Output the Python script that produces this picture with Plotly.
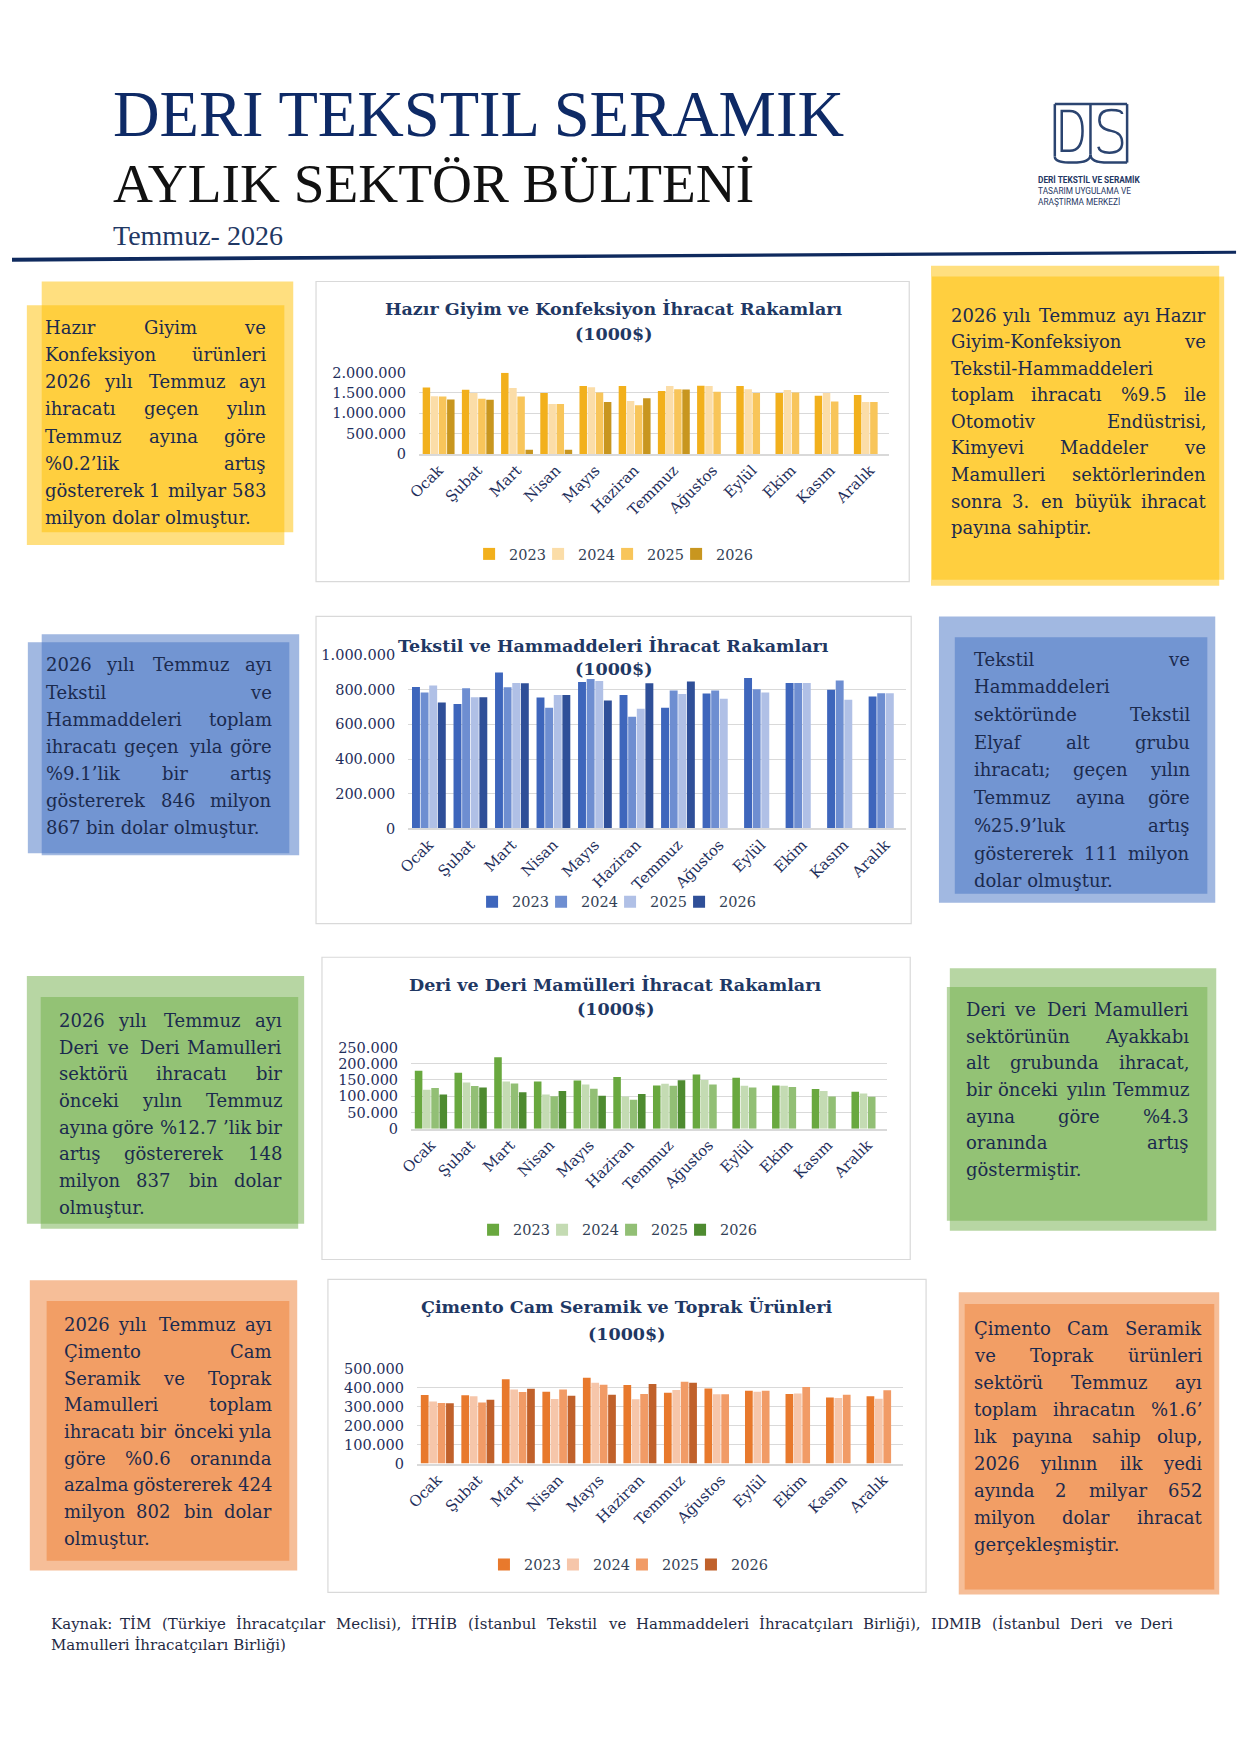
import plotly.graph_objects as go

W, H = 1241, 1755


def X(x):
    return x / W


def Y(y):
    return 1 - y / H


# ---------------- data ----------------
months = ["Ocak", "Şubat", "Mart", "Nisan", "Mayıs", "Haziran", "Temmuz",
          "Ağustos", "Eylül", "Ekim", "Kasım", "Aralık"]
years = ["2023", "2024", "2025", "2026"]

giyim_2023 = [1634000, 1580000, 2000000, 1500000, 1670000, 1670000, 1550000, 1675000, 1670000, 1500000, 1430000, 1450000]
giyim_2024 = [1420000, 1500000, 1620000, 1230000, 1640000, 1300000, 1670000, 1670000, 1590000, 1570000, 1500000, 1280000]
giyim_2025 = [1410000, 1360000, 1410000, 1230000, 1510000, 1200000, 1590000, 1530000, 1500000, 1510000, 1290000, 1280000]
giyim_2026 = [1340000, 1330000, 100000, 100000, 1280000, 1370000, 1583000, None, None, None, None, None]

tekstil_2023 = [816000, 717000, 900000, 755000, 845000, 769000, 696000, 778000, 868000, 839000, 800000, 761000]
tekstil_2024 = [784000, 809000, 815000, 696000, 862000, 644000, 795000, 795000, 803000, 839000, 853000, 780000]
tekstil_2025 = [824000, 757000, 839000, 769000, 851000, 690000, 776000, 748000, 784000, 839000, 742000, 780000]
tekstil_2026 = [727000, 757000, 837000, 769000, 738000, 837000, 846867, None, None, None, None, None]

deri_2023 = [178000, 172000, 220000, 145000, 148000, 159000, 133000, 167000, 157000, 133000, 122000, 114000]
deri_2024 = [120000, 142000, 145000, 105000, 136000, 99000, 138000, 150000, 132000, 132000, 116000, 108000]
deri_2025 = [125000, 131000, 139000, 100000, 123000, 89000, 132000, 136000, 127000, 128000, 99000, 98000]
deri_2026 = [105000, 127000, 112000, 116000, 101000, 107000, 148837, None, None, None, None, None]

cimento_2023 = [361000, 359000, 444000, 378000, 451000, 413000, 373000, 395000, 383000, 366000, 347000, 354000]
cimento_2024 = [326000, 354000, 390000, 340000, 425000, 338000, 387000, 364000, 378000, 368000, 345000, 341000]
cimento_2025 = [319000, 321000, 376000, 389000, 415000, 366000, 430000, 364000, 383000, 402000, 362000, 385000]
cimento_2026 = [317000, 336000, 394000, 357000, 362000, 418000, 424802, None, None, None, None, None]

chart_titles = ["Hazır Giyim ve Konfeksiyon İhracat Rakamları",
                "Tekstil ve Hammaddeleri İhracat Rakamları",
                "Deri ve Deri Mamülleri İhracat Rakamları",
                "Çimento Cam Seramik ve Toprak Ürünleri"]
unit_label = "(1000$)"

text_1L = ["Hazır Giyim ve", "Konfeksiyon ürünleri", "2026 yılı Temmuz ayı",
           "ihracatı geçen yılın", "Temmuz ayına göre", "%0.2’lik artış",
           "göstererek 1 milyar 583", "milyon dolar olmuştur."]
text_1R = ["2026 yılı Temmuz ayı Hazır", "Giyim-Konfeksiyon ve", "Tekstil-Hammaddeleri",
           "toplam ihracatı %9.5 ile", "Otomotiv Endüstrisi,", "Kimyevi Maddeler ve",
           "Mamulleri sektörlerinden", "sonra 3. en büyük ihracat", "payına sahiptir."]
text_2L = ["2026 yılı Temmuz ayı", "Tekstil ve", "Hammaddeleri toplam",
           "ihracatı geçen yıla göre", "%9.1’lik bir artış", "göstererek 846 milyon",
           "867 bin dolar olmuştur."]
text_2R = ["Tekstil ve", "Hammaddeleri", "sektöründe Tekstil", "Elyaf alt grubu",
           "ihracatı; geçen yılın", "Temmuz ayına göre", "%25.9’luk artış",
           "göstererek 111 milyon", "dolar olmuştur."]
text_3L = ["2026 yılı Temmuz ayı", "Deri ve Deri Mamulleri", "sektörü ihracatı bir",
           "önceki yılın Temmuz", "ayına göre %12.7 ’lik bir", "artış göstererek 148",
           "milyon 837 bin dolar", "olmuştur."]
text_3R = ["Deri ve Deri Mamulleri", "sektörünün Ayakkabı", "alt grubunda ihracat,",
           "bir önceki yılın Temmuz", "ayına göre %4.3", "oranında artış", "göstermiştir."]
text_4L = ["2026 yılı Temmuz ayı", "Çimento Cam", "Seramik ve Toprak", "Mamulleri toplam",
           "ihracatı bir önceki yıla", "göre %0.6 oranında", "azalma göstererek 424",
           "milyon 802 bin dolar", "olmuştur."]
text_4R = ["Çimento Cam Seramik", "ve Toprak ürünleri", "sektörü Temmuz ayı",
           "toplam ihracatın %1.6’", "lık payına sahip olup,", "2026 yılının ilk yedi",
           "ayında 2 milyar 652", "milyon dolar ihracat", "gerçekleşmiştir."]
footer_lines = ["Kaynak: TİM (Türkiye İhracatçılar Meclisi), İTHİB (İstanbul Tekstil ve Hammaddeleri İhracatçıları Birliği), IDMIB (İstanbul Deri ve Deri",
                "Mamulleri İhracatçıları Birliği)"]

# ---------------- styles ----------------
SERIF = "DejaVu Serif"
NAVY = "#1F2F5C"
BODY = "#1B2A4E"

charts = [
    dict(series=[giyim_2023, giyim_2024, giyim_2025, giyim_2026],
         colors=["#F2B01C", "#FBDDA8", "#F8C55A", "#C8961F"],
         box=(307, 276, 906, 579), px=(411, 886), py=(368, 450),
         top=2000000, dtick=500000, tx=607, ty=(304, 329), lx=610, ly=551),
    dict(series=[tekstil_2023, tekstil_2024, tekstil_2025, tekstil_2026],
         colors=["#3E66BC", "#6E8ED1", "#B0C0E6", "#2F4F98"],
         box=(307, 614, 908, 924), px=(400, 903), py=(653, 828),
         top=1000000, dtick=200000, tx=607, ty=(644, 667), lx=613, ly=902),
    dict(series=[deri_2023, deri_2024, deri_2025, deri_2026],
         colors=["#69A83F", "#C4DBB3", "#92BF75", "#4E8B30"],
         box=(313, 958, 907, 1263), px=(403, 884), py=(1049, 1131),
         top=250000, dtick=50000, tx=609, ty=(986, 1010), lx=614, ly=1233),
    dict(series=[cimento_2023, cimento_2024, cimento_2025, cimento_2026],
         colors=["#E8792C", "#F6C6AA", "#F19B66", "#C0612B"],
         box=(319, 1283, 923, 1599), px=(409, 900), py=(1373, 1469),
         top=500000, dtick=100000, tx=621, ty=(1311, 1338), lx=625, ly=1571),
]

fig = go.Figure()
layout = dict(
    width=W, height=H, margin=dict(l=0, r=0, t=0, b=0),
    paper_bgcolor="white", plot_bgcolor="rgba(0,0,0,0)",
    separators=",.", barmode="group", bargap=0.17, bargroupgap=0.08,
    showlegend=True, font=dict(family=SERIF, color=NAVY),
)
shapes = []
annotations = []


def ann(text, x, y, xanchor="left", size=18, color=BODY, family=SERIF, bold=False):
    t = f"<b>{text}</b>" if bold else text
    return dict(text=t, x=X(x), y=Y(y), xref="paper", yref="paper", xanchor=xanchor,
                yanchor="middle", showarrow=False, font=dict(size=size, color=color, family=family))


for ci, ch in enumerate(charts):
    n = ci + 1
    sfx = "" if n == 1 else str(n)
    lg = "legend" + sfx
    for k, (yr, vals, col) in enumerate(zip(years, ch["series"], ch["colors"])):
        fig.add_trace(go.Bar(x=months, y=vals, name=yr, marker=dict(color=col, line=dict(width=0)),
                             xaxis="x" + sfx, yaxis="y" + sfx, legend=lg,
                             legendwidth=(42 if k == len(years) - 1 else 24),
                             hovertemplate="%{x} " + yr + ": %{y:,d}<extra></extra>"))
    layout["xaxis" + sfx] = dict(
        domain=[X(ch["px"][0]), X(ch["px"][1])], anchor="y" + sfx, type="category",
        tickangle=-45, tickfont=dict(size=15, color=NAVY, family=SERIF),
        showline=True, linecolor="#D9D9D9", linewidth=1.5, showgrid=False, ticks="")
    layout["yaxis" + sfx] = dict(
        domain=[Y(ch["py"][1]), Y(ch["py"][0])], anchor="x" + sfx,
        range=[0, ch["top"]], dtick=ch["dtick"], tickformat=",d",
        gridcolor="#D9D9D9", gridwidth=1, zeroline=False, showline=False,
        tickfont=dict(size=14.5, color=NAVY, family=SERIF), ticklabelstandoff=12)
    layout[lg] = dict(orientation="h", x=X(ch["lx"]), xanchor="center", y=Y(ch["ly"]),
                      yanchor="middle", font=dict(size=14.5, color="#333F55", family=SERIF),
                      bgcolor="rgba(0,0,0,0)", itemwidth=30, entrywidthmode="pixels",
                      traceorder="normal")
    x0, y0, x1, y1 = ch["box"]
    shapes.append(dict(type="rect", xref="paper", yref="paper", x0=X(x0), x1=X(x1), y0=Y(y1), y1=Y(y0),
                       fillcolor="white", line=dict(color="#D9D9D9", width=1.2), layer="below"))
    annotations.append(ann(chart_titles[ci], ch["tx"], ch["ty"][0], "center", 17.5, "#1F3864", SERIF, True))
    annotations.append(ann(unit_label, ch["tx"], ch["ty"][1], "center", 17.5, "#1F3864", SERIF, True))

# ---------------- text boxes ----------------
CW = {
    " ": .318, "a": .596, "b": .640, "c": .560, "d": .640, "e": .592, "f": .371, "g": .640,
    "h": .644, "i": .320, "j": .310, "k": .606, "l": .320, "m": .948, "n": .644, "o": .602,
    "p": .640, "q": .640, "r": .478, "s": .513, "t": .402, "u": .644, "v": .565, "w": .855,
    "x": .564, "y": .565, "z": .527, "ı": .320, "ş": .513, "ç": .560, "ğ": .640, "ö": .602,
    "ü": .644, ".": .318, ",": .318, "%": .950, "-": .338, "(": .390, ")": .390, ";": .337,
    "’": .318, ":": .337,
    "A": .722, "B": .735, "C": .765, "D": .802, "E": .730, "F": .694, "G": .799, "H": .872,
    "I": .395, "J": .405, "K": .747, "L": .664, "M": 1.024, "N": .875, "O": .820, "P": .673,
    "R": .753, "S": .685, "T": .667, "U": .843, "V": .722, "Y": .660, "Z": .695,
    "İ": .395, "Ç": .765, "Ü": .843, "Ş": .685, "Ö": .820,
}


def tw(s, fs):
    return sum(CW.get(c, .636) for c in s) * fs


def justify(lines, L, R, y0, dy, fs=18, color=BODY):
    out = []
    for i, line in enumerate(lines):
        y = y0 + i * dy
        words = line.split(" ")
        if i == len(lines) - 1 or len(words) == 1:
            out.append(ann(line, L, y, "left", fs, color))
            continue
        widths = [tw(w, fs) for w in words]
        gap = (R - L - sum(widths)) / (len(words) - 1)
        x = L
        for j, (w, wd) in enumerate(zip(words, widths)):
            if j == 0:
                out.append(ann(w, L, y, "left", fs, color))
            elif j == len(words) - 1:
                out.append(ann(w, R, y, "right", fs, color))
            else:
                out.append(ann(w, x + wd / 2, y, "center", fs, color))
            x += wd + gap
    return out


boxes = [
    ("rgba(255,192,0,0.5)", [(30, 276, 284, 529), (15, 300, 275, 542)], text_1L, 31, 259, 322, 27.5),
    ("rgba(255,192,0,0.5)", [(928, 260, 1219, 583), (929, 271, 1224, 577)], text_1R, 946, 1208, 310, 26.8),
    ("rgba(68,114,196,0.5)", [(30, 632, 290, 855), (16, 640, 280, 853)], text_2L, 32, 265, 663, 27.3),
    ("rgba(68,114,196,0.5)", [(936, 614, 1215, 903), (952, 635, 1207, 894)], text_2R, 969, 1192, 657, 28.0),
    ("rgba(112,173,71,0.5)", [(15, 977, 295, 1227), (29, 998, 289, 1232)], text_3L, 45, 275, 1022, 26.9),
    ("rgba(112,173,71,0.5)", [(947, 969, 1216, 1234), (944, 988, 1207, 1224)], text_3R, 961, 1191, 1011, 26.8),
    ("rgba(237,125,49,0.5)", [(18, 1284, 288, 1577), (35, 1305, 280, 1567)], text_4L, 50, 265, 1329, 26.9),
    ("rgba(237,125,49,0.5)", [(956, 1296, 1219, 1601), (962, 1308, 1214, 1596)], text_4R, 969, 1204, 1333, 27.2),
]
for col, rects, lines, L, R, y0, dy in boxes:
    for (x0, y0r, x1, y1) in rects:
        shapes.append(dict(type="rect", xref="paper", yref="paper", x0=X(x0), x1=X(x1),
                           y0=Y(y1), y1=Y(y0r), fillcolor=col, line=dict(width=0), layer="below"))
    annotations += justify(lines, L, R, y0, dy)

annotations += justify(footer_lines, 37, 1174, 1631, 21, 15, "#1F2A44")

# ---------------- header ----------------
HEAD = "Liberation Serif"
annotations.append(ann("DERI TEKSTIL SERAMIK", 100, 107, "left", 64.5, "#0E2A66", HEAD))
annotations.append(ann("AYLIK SEKTÖR BÜLTENİ", 100, 177, "left", 55.3, "#111111", HEAD))
annotations.append(ann("Temmuz- 2026", 100, 230, "left", 28, "#1F3864", HEAD))


def path(cmds):
    out = []
    for c in cmds:
        if isinstance(c, str):
            out.append(c)
        else:
            out.append(f"{X(c[0]):.5f},{Y(c[1]):.5f}")
    return " ".join(out)


shapes.append(dict(type="path", xref="paper", yref="paper",
                   path=path(["M", (0, 252), "L", (1236, 245), "L", (1236, 248), "L", (0, 256), "Z"]),
                   fillcolor="#0F2A5E", line=dict(width=0)))

LOGO = "#2B4470"
logo_paths = [
    ["M", (1053, 97), "L", (1126, 97)],
    ["M", (1053, 97), "L", (1053, 150)],
    ["M", (1126, 97), "L", (1126, 156)],
    ["M", (1060, 104), "L", (1060, 144), "L", (1068, 144), "Q", (1081, 144), (1081, 124),
     "Q", (1081, 104), (1068, 104), "Z"],
    ["M", (1089, 97), "L", (1089, 148)],
    ["M", (1121, 107), "Q", (1121, 103), (1110, 103), "Q", (1098, 103), (1098, 113),
     "Q", (1098, 122), (1110, 124), "Q", (1121, 126), (1121, 136), "Q", (1121, 146), (1108, 146),
     "Q", (1098, 146), (1097, 140)],
    ["M", (1053, 150), "Q", (1053, 156), (1071, 156), "Q", (1089, 156), (1089, 148)],
    ["M", (1089, 148), "Q", (1089, 156), (1107, 156), "L", (1126, 156)],
]
for p in logo_paths:
    shapes.append(dict(type="path", xref="paper", yref="paper", path=path(p),
                       line=dict(color=LOGO, width=2.5)))
annotations.append(ann("<b>DERİ TEKSTİL VE SERAMİK</b>", 1034, 174, "left", 8.3, "#1F3864", "Roboto"))
annotations.append(ann("TASARIM UYGULAMA VE", 1034, 185, "left", 8.3, "#1F3864", "Roboto"))
annotations.append(ann("ARAŞTIRMA MERKEZİ", 1034, 196, "left", 8.3, "#1F3864", "Roboto"))

layout["shapes"] = shapes
layout["annotations"] = annotations
fig.update_layout(**layout)
fig.write_html("out.html", config={"displayModeBar": False},
               post_script="document.body.style.margin='0px';document.body.style.overflow='hidden';")
